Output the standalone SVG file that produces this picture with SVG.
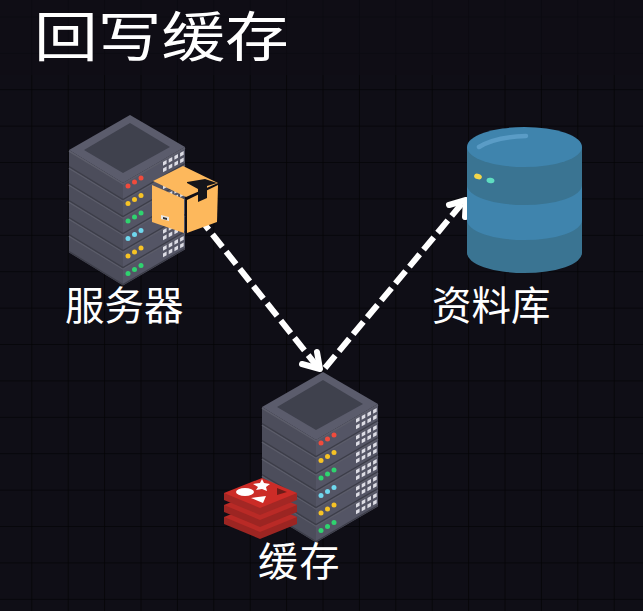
<svg xmlns="http://www.w3.org/2000/svg" width="643" height="611" viewBox="0 0 643 611">
<style>
text{fill:#fff;font-family:"Noto Sans CJK SC","Liberation Sans",sans-serif}
.l{font-size:39.500px}
.c{fill:none;stroke:#fff;stroke-width:6}
.d{stroke-dasharray:16 6}
.h{stroke-linecap:round;stroke-linejoin:round}
</style>
<defs>
<pattern id="g" width="36.4" height="36.4" patternUnits="userSpaceOnUse" x="-4.1" y="17.4">
<path d="M36.4 0V36.4H0" fill="none" stroke="#040406" stroke-width="1.6"/>
</pattern>
<g id="w"><path d="M0 0l3.600-2v3.800l-3.600 2zM5.700-3l3.600-2v3.800l-3.600 2zM11.400-6l3.600-2v3.800l-3.600 2zM17.100-9l3.600-2v3.800l-3.600 2zM0 6.500l3.600-2v3.800l-3.600 2zM5.700 3.500l3.600-2v3.800l-3.600 2zM11.400 .5l3.600-2v3.800l-3.600 2zM17.100-2.500l3.600-2v3.800l-3.600 2z" fill="#dcdce4"/></g>
<g id="lay">
<path d="M0 35L54 68V85.500L0 52.500z" fill="#4c4d5b"/>
<path d="M54 68L116 32V49.500L54 85.500z" fill="#545565"/>
<path d="M0 36L54 69L116 33" fill="none" stroke="#5c5d6a" stroke-width="1.500"/>
<path d="M0 51.500L54 84.500L116 48.500" fill="none" stroke="#3c3d48" stroke-width="1.200"/>
<use href="#w" x="94" y="47"/>
</g>
<g id="srv">
<use href="#lay" y="85"/><use href="#lay" y="68"/><use href="#lay" y="51"/><use href="#lay" y="34"/><use href="#lay" y="17"/><use href="#lay"/>
<path d="M61 0L116 32L54 68L0 35z" fill="#5b5c6c"/>
<path d="M61 8L101 32L54 58L15 35z" fill="#3f414d"/>
<g fill="#f04b3c"><circle cx="59" cy="71" r="2.500"/><circle cx="65.500" cy="67" r="2.500"/><circle cx="72" cy="63" r="2.500"/></g>
<g fill="#f7c325"><circle cx="59" cy="88.500" r="2.500"/><circle cx="65.500" cy="84.500" r="2.500"/><circle cx="72" cy="80.500" r="2.500"/></g>
<g fill="#2fd36f"><circle cx="59" cy="106" r="2.500"/><circle cx="65.500" cy="102" r="2.500"/><circle cx="72" cy="98" r="2.500"/></g>
<g fill="#6fd8ee"><circle cx="59" cy="123.500" r="2.500"/><circle cx="65.500" cy="119.500" r="2.500"/><circle cx="72" cy="115.500" r="2.500"/></g>
<g fill="#f7c325"><circle cx="59" cy="141" r="2.500"/><circle cx="65.500" cy="137" r="2.500"/><circle cx="72" cy="133" r="2.500"/></g>
<g fill="#2fd36f"><circle cx="59" cy="158.500" r="2.500"/><circle cx="65.500" cy="154.500" r="2.500"/><circle cx="72" cy="150.500" r="2.500"/></g>
</g>
<g id="slab">
<path d="M224 493V500L260 515L297 500V493z" fill="#9c2522"/>
<path d="M224 493L262 478L297 493L260 508z" fill="#b92a26"/>
</g>
</defs>
<rect width="643" height="611" fill="#0f0e16"/>
<rect width="643" height="611" fill="url(#g)"/>
<rect width="643" height="75" fill="#0f0e16" opacity=".6"/>
<g id="connectors">
<path class="c d" d="M205 225L320 370" stroke-dashoffset="10"/>
<path class="c d" d="M325 368L464 201"/>
<path class="c h" d="M302 364L320 369L317 352"/>
<path class="c h" d="M449 205L466 200L465 217"/>
</g>
<g id="server"><use href="#srv" x="69" y="115"/>
<path d="M153 181L183 166L218 183L186 197z" fill="#fdb85c"/>
<path d="M152 185L184 199V233L152 222z" fill="#fdb85c"/>
<path d="M187 200L218 185L217 222L187 233z" fill="#fdb85c"/>
<path d="M187 182L205 179L217 183L207 186V198L198 202V189L187 183z" fill="#15151a"/>
<path d="M161 215l8 2v4l-8-2z" fill="#e9e9e9"/>
<path d="M163 217l4 1v2l-4-1z" fill="#333"/>
<text class="l" x="65" y="320">服务器</text></g>
<g id="database">
<path d="M467 147V253A57.500 20 0 0 0 582 253V147z" fill="#3a7492"/>
<path d="M467 185A57.500 20 0 0 0 582 185V220A57.500 20 0 0 1 467 220z" fill="#3f84ad"/>
<ellipse cx="524.500" cy="147" rx="57.500" ry="20" fill="#3f84ad"/>
<path d="M479 147Q495 137 526 136" fill="none" stroke="#5a9cc6" stroke-width="4.500" stroke-linecap="round"/>
<ellipse cx="478" cy="176.500" rx="4" ry="2.700" fill="#f2d64a" transform="rotate(20 478 176.500)"/>
<ellipse cx="490.500" cy="180.500" rx="4" ry="2.700" fill="#5fdcc0" transform="rotate(10 490.500 180.500)"/>
<text class="l" x="432" y="320">资料库</text></g>
<g id="cache"><use href="#srv" x="262" y="372"/>
<use href="#slab" y="24"/><use href="#slab" y="12"/>
<path d="M224 493V500L260 515L297 500V493z" fill="#a32724"/>
<path d="M224 493L262 478L297 493L260 508z" fill="#cc2c27"/>
<ellipse cx="245" cy="492" rx="9" ry="4" fill="#fff"/>
<path d="M262 479L264 483L270 484L266 487L267 491L262 489L256 490L258 487L253 484L260 483z" fill="#fff"/>
<path d="M251 498L266 496L263 503z" fill="#fff"/>
<path d="M277 488L287 492L277 495z" fill="#6f1b18"/>
<text class="l" x="258" y="576" style="font-size:40px;letter-spacing:1.500px">缓存</text></g>
<text id="title" transform="translate(34 57) scale(1.180 1)" style="font-size:54px">回写缓存</text>
</svg>
